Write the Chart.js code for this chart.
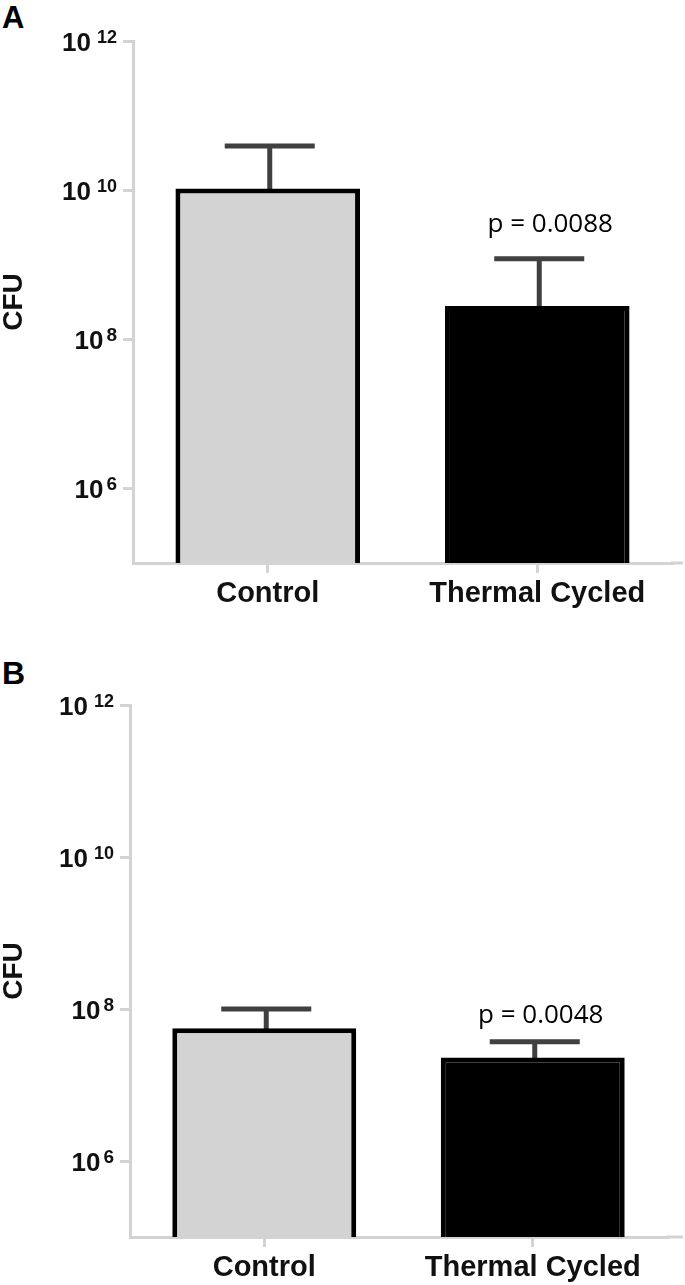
<!DOCTYPE html>
<html>
<head>
<meta charset="utf-8">
<script src="https://cdn.jsdelivr.net/npm/chart.js@4.4.1/dist/chart.umd.min.js"></script>
<style>
  html, body { margin: 0; padding: 0; background: #fff; }
  body { width: 685px; height: 1285px; position: relative; overflow: hidden; }
  canvas { position: absolute; left: 0; }
  .panel-letter { position: absolute; font-family: "Liberation Sans", Arial, sans-serif; font-weight: bold; line-height: 1; color: #000; }
</style>
</head>
<body>
<div class="panel-letter" style="left:2px; top:2px; font-size:31px;">A</div>
<div class="panel-letter" style="left:2px; top:657px; font-size:32px;">B</div>
<canvas id="chartA" width="685" height="640" style="top:0px;"></canvas>
<canvas id="chartB" width="685" height="645" style="top:640px;"></canvas>
<script>
// ---- data ----
const categories = ['Control', 'Thermal Cycled'];
const panelAMeans = [1.05e10, 2.8e8];
const panelAUpper = [3.9e10, 1.2e9];     // mean + error
const panelBMeans = [5.6e7, 2.3e7];
const panelBUpper = [1.0e8, 3.7e7];
const yTickValues = [1e6, 1e8, 1e10, 1e12];
const yTickBase = '10';
const yTickExponents = ['6', '8', '10', '12'];
const pLabelA = 'p = 0.0088';
const pLabelB = 'p = 0.0048';
const yTitle = 'CFU';

const AXIS_GRAY = '#d3d3d3';
const FONT = '"Liberation Sans", Arial, sans-serif';

const extrasPlugin = {
  id: 'extras',
  beforeDatasetsDraw(chart, args, opts) {
    const ctx = chart.ctx;
    const ys = chart.scales.y;
    const meta = chart.getDatasetMeta(0);
    ctx.save();
    ctx.strokeStyle = '#404040';
    ctx.lineWidth = 5;
    ctx.lineCap = 'butt';
    meta.data.forEach((bar, i) => {
      const top = ys.getPixelForValue(opts.upper[i]);
      ctx.beginPath();
      ctx.moveTo(bar.x + 2, bar.y + 3);
      ctx.lineTo(bar.x + 2, top);
      ctx.moveTo(bar.x + 2 - 45, top);
      ctx.lineTo(bar.x + 2 + 45, top);
      ctx.stroke();
    });
    ctx.restore();
  },
  afterDraw(chart, args, opts) {
    const ctx = chart.ctx;
    const ys = chart.scales.y;
    const area = chart.chartArea;
    ctx.save();
    // extend x axis line to the right
    ctx.strokeStyle = AXIS_GRAY;
    ctx.lineWidth = 3;
    ctx.beginPath();
    ctx.moveTo(area.right - 1, area.bottom);
    ctx.lineTo(683, area.bottom);
    ctx.stroke();
    // y tick labels with superscripts
    ctx.fillStyle = '#111';
    ctx.textAlign = 'right';
    ctx.textBaseline = 'alphabetic';
    ys.ticks.forEach((t, i) => {
      const py = ys.getPixelForValue(t.value);
      const supRight = area.left - 16;
      const exp = yTickExponents[i];
      const single = exp.length === 1;
      ctx.font = 'bold ' + (single ? 19 : 18) + 'px ' + FONT;
      ctx.fillText(exp, supRight, py + 2 + opts.labelShift);
      const w = ctx.measureText(exp).width;
      ctx.font = 'bold 26px ' + FONT;
      ctx.fillText(yTickBase, supRight - w - (single ? 3 : 6), py + 10 + opts.labelShift);
    });
    // p-value label
    const meta = chart.getDatasetMeta(0);
    const bar = meta.data[1];
    const capY = ys.getPixelForValue(opts.upper[1]);
    ctx.font = '26px "Open Sans", sans-serif';
    ctx.fillStyle = '#000';
    ctx.textAlign = 'center';
    ctx.fillText(opts.pText, bar.x + opts.pDx, capY + opts.pDy);
    ctx.restore();
  }
};

function makeChart(id, means, upper, cfg) {
  return new Chart(document.getElementById(id), {
    type: 'bar',
    data: {
      labels: categories,
      datasets: [{
        data: means,
        backgroundColor: ['#d3d3d3', '#000000'],
        borderColor: '#000000',
        borderWidth: 5,
        borderSkipped: 'start',
        barPercentage: 0.685,
        categoryPercentage: 1.0
      }]
    },
    options: {
      responsive: false,
      animation: false,
      devicePixelRatio: 1,
      layout: { padding: { top: cfg.top, right: cfg.right, left: 0, bottom: 0 } },
      plugins: {
        legend: { display: false },
        tooltip: { enabled: false },
        extras: { upper: upper, pText: cfg.pText, pDx: cfg.pDx, pDy: cfg.pDy, labelShift: cfg.labelShift }
      },
      scales: {
        x: {
          type: 'category',
          offset: true,
          afterFit: (s) => { s.height = cfg.xHeight; },
          grid: { display: true, drawOnChartArea: false, drawTicks: true, tickLength: 10, offset: false, color: AXIS_GRAY, lineWidth: 3 },
          border: { display: true, color: AXIS_GRAY, width: 3 },
          ticks: { color: '#111', padding: 4, maxRotation: 0, minRotation: 0, font: { family: FONT, size: 29, weight: 'bold' } }
        },
        y: {
          type: 'logarithmic',
          min: 1e5,
          max: 1e12,
          afterBuildTicks: (s) => { s.ticks = yTickValues.map(v => ({ value: v })); },
          afterFit: (s) => { s.width = cfg.yWidth; },
          grid: { display: true, drawOnChartArea: false, drawTicks: true, tickLength: 10, color: AXIS_GRAY, lineWidth: 3 },
          border: { display: true, color: AXIS_GRAY, width: 3 },
          ticks: { display: false },
          title: { display: true, text: yTitle, color: '#111', padding: 0, font: { family: FONT, size: 28, weight: 'bold', lineHeight: 1 } }
        }
      }
    },
    plugins: [extrasPlugin]
  });
}

makeChart('chartA', panelAMeans, panelAUpper, { top: 41, right: 13, xHeight: 77, yWidth: 133, pText: pLabelA, pDx: 13, pDy: -27, labelShift: 0 });
makeChart('chartB', panelBMeans, panelBUpper, { top: 65, right: 18, xHeight: 48, yWidth: 130, pText: pLabelB, pDx: 8, pDy: -19, labelShift: 0 });
</script>
</body>
</html>
